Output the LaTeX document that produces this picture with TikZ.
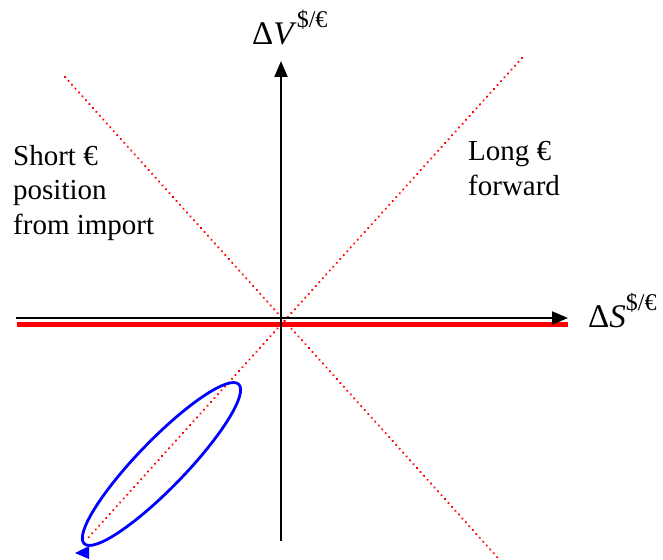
\documentclass[tikz,border=0pt]{standalone}
\usepackage{fontspec}
\setmainfont{Liberation Serif}
\usetikzlibrary{arrows.meta}
\newcommand{\supcur}{\raisebox{17pt}{\fontsize{24}{24}\selectfont \$/€}}
\begin{document}
\begin{tikzpicture}[x=1pt,y=1pt,
  axis/.style={line width=2pt,-{Triangle[length=16pt,width=13pt]}},
  dotline/.style={red,line width=2.5pt,line cap=round,dash pattern=on 0.01pt off 5.2pt},
  lbl/.style={font=\fontsize{29}{34.5}\selectfont,anchor=base west,inner sep=0pt,align=left},
  axlbl/.style={font=\fontsize{33}{36}\selectfont,anchor=base west,inner sep=0pt}]
\useasboundingbox (0,0) rectangle (663,-559);
% origin and endpoints
\coordinate (O) at (281,-318);
\coordinate (vtop) at (281,-61);
\coordinate (vbot) at (281,-541);
\coordinate (hleft) at (16,-318);
\coordinate (hright) at (568,-318);
\coordinate (rl) at (17,-324.5);
\coordinate (rr) at (568,-324.5);
\coordinate (d1a) at (65,-77);
\coordinate (d1b) at (498,-558);
\coordinate (d2a) at (522,-58);
\coordinate (d2b) at (88,-538);
% dotted lines
\draw[dotline] (d1a) -- (d1b);
\draw[dotline] (d2a) -- (d2b);
% axes
\draw[red,line width=5.5pt] (rl) -- (rr);
\draw[axis] (hleft) -- (hright);
\draw[axis] (vbot) -- (vtop);
% ellipse
\coordinate (ec) at (161.5,-464);
\draw[blue,line width=2.8pt,rotate around={45.9:(ec)}] (ec) ellipse[x radius=111, y radius=24];
\fill[blue] (75,-553) -- (89,-546) -- (89,-559) -- cycle;
% labels
\node[axlbl] (lv) at (252,-45) {Δ\textit{V}\supcur};
\node[axlbl] (ls) at (588,-327.5) {Δ\textit{S}\supcur};
\node[lbl] (short) at (13,-234) {Short €\\position\\from import};
\node[lbl] (long) at (468,-195) {Long €\\forward};
\end{tikzpicture}
\end{document}
